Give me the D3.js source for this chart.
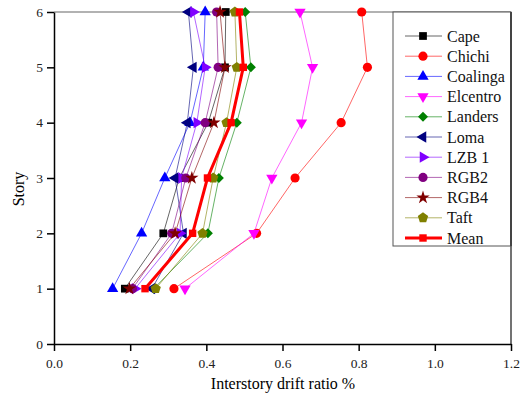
<html>
<head>
    <script src="https://d3js.org/d3.v7.min.js"></script>
</head>
<body style="margin:0;background:#fff">
    <div id="chart">
        <svg width=523 height=398></svg>
    </div>
    <script>
        // story levels and drift ratios (%)
        var stories = [1, 2, 3, 4, 5, 6]
        var cape = [0.186, 0.287, 0.329, 0.405, 0.449, 0.451]
        var chichi = [0.315, 0.532, 0.633, 0.754, 0.823, 0.808]
        var coalinga = [0.154, 0.230, 0.291, 0.357, 0.392, 0.397]
        var elcentro = [0.344, 0.525, 0.572, 0.650, 0.679, 0.646]
        var landers = [0.262, 0.404, 0.433, 0.480, 0.517, 0.502]
        var loma = [0.257, 0.340, 0.318, 0.350, 0.366, 0.353]
        var lzb1 = [0.213, 0.331, 0.335, 0.375, 0.397, 0.366]
        var rgb2 = [0.206, 0.309, 0.346, 0.397, 0.431, 0.427]
        var rgb4 = [0.198, 0.318, 0.362, 0.420, 0.449, 0.436]
        var taft = [0.267, 0.390, 0.418, 0.453, 0.480, 0.475]
        var mean = [0.239, 0.364, 0.403, 0.465, 0.497, 0.487]

        var xTicks = [0, 0.2, 0.4, 0.6, 0.8, 1.0, 1.2]
        var yTicks = [0, 1, 2, 3, 4, 5, 6]

        var series = [
            { name: "Cape", values: cape, color: "#000000", shape: "square" },
            { name: "Chichi", values: chichi, color: "#ff0000", shape: "circle" },
            { name: "Coalinga", values: coalinga, color: "#0000ff", shape: "up" },
            { name: "Elcentro", values: elcentro, color: "#ff00ff", shape: "down" },
            { name: "Landers", values: landers, color: "#008000", shape: "diamond" },
            { name: "Loma", values: loma, color: "#000080", shape: "left" },
            { name: "LZB 1", values: lzb1, color: "#8000ff", shape: "right" },
            { name: "RGB2", values: rgb2, color: "#800080", shape: "circle" },
            { name: "RGB4", values: rgb4, color: "#800000", shape: "star" },
            { name: "Taft", values: taft, color: "#808000", shape: "pentagon" },
            { name: "Mean", values: mean, color: "#ff0000", shape: "square", bold: true }
        ]

        var FONT = "'Liberation Serif', serif"
        var svg = d3.select('#chart svg')

        var x = d3.scaleLinear().domain([0, 1.2]).range([54, 511])
        var y = d3.scaleLinear().domain([0, 6]).range([344, 12])

        // pentagon marker for Taft
        var pentagon = {
            draw: function(ctx, size) {
                var r = Math.sqrt(size / 2.378)
                for (var i = 0; i < 5; i++) {
                    var a = -Math.PI / 2 + i * 2 * Math.PI / 5
                    if (i == 0) ctx.moveTo(r * Math.cos(a), r * Math.sin(a))
                    else ctx.lineTo(r * Math.cos(a), r * Math.sin(a))
                }
                ctx.closePath()
            }
        }

        function marker(shape, bold) {
            var types = {
                square: [d3.symbolSquare, bold ? 55 : 60, 0],
                circle: [d3.symbolCircle, 66, 0],
                up: [d3.symbolTriangle, 55, 0],
                down: [d3.symbolTriangle, 55, 180],
                left: [d3.symbolTriangle, 55, -90],
                right: [d3.symbolTriangle, 55, 90],
                diamond: [d3.symbolSquare, 50, 45],
                star: [d3.symbolStar, 55, 0],
                pentagon: [pentagon, 70, 0]
            }
            return types[shape]
        }

        // frame
        svg.append("line").attr("x1", 54).attr("x2", 511).attr("y1", 12).attr("y2", 12)
            .attr("stroke", "#999").attr("stroke-width", 1.5)
        svg.append("line").attr("x1", 511).attr("x2", 511).attr("y1", 12).attr("y2", 344)
            .attr("stroke", "#444").attr("stroke-width", 1.5)

        var line = d3.line()
            .x(function(d) { return x(d.v) })
            .y(function(d) { return y(d.s) })

        series.forEach(function(ser) {
            var pts = stories.map(function(s, i) { return { s: s, v: ser.values[i] } })
            var g = svg.append("g")
            g.append("path")
                .datum(pts)
                .attr("d", line)
                .attr("fill", "none")
                .attr("stroke", ser.color)
                .attr("stroke-width", ser.bold ? 3 : 1)
                .attr("stroke-opacity", ser.bold ? 1 : 0.6)
            var m = marker(ser.shape, ser.bold)
            g.selectAll("path.pt")
                .data(pts)
                .enter()
                .append("path")
                .classed("pt", true)
                .attr("d", d3.symbol().type(m[0]).size(m[1]))
                .attr("transform", function(d) {
                    return "translate(" + x(d.v) + "," + y(d.s) + ") rotate(" + m[2] + ")"
                })
                .attr("fill", ser.color)
        })

        // axes
        var xAxis = d3.axisBottom(x).tickValues(xTicks).tickFormat(d3.format(".1f")).tickSize(7).tickSizeOuter(0)
        var gx = svg.append("g").attr("transform", "translate(0,344)").call(xAxis)
        var yAxis = d3.axisLeft(y).tickValues(yTicks).tickFormat(d3.format("d")).tickSize(7).tickSizeOuter(0)
        var gy = svg.append("g").attr("transform", "translate(54,0)").call(yAxis)

        gx.selectAll("text").style("font-family", FONT).attr("font-size", 13.5).attr("fill", "#222").attr("y", 14)
        gy.selectAll("text").style("font-family", FONT).attr("font-size", 13.5).attr("fill", "#222").attr("x", -11)
        gx.select(".domain").attr("stroke-width", 1.5)
        gy.select(".domain").attr("stroke-width", 1.5)
        gx.selectAll(".tick line").attr("stroke-width", 1.5)
        gy.selectAll(".tick line").attr("stroke-width", 1.5)

        svg.append("text")
            .attr("x", 283).attr("y", 389)
            .attr("text-anchor", "middle")
            .style("font-family", FONT)
            .attr("font-size", 16)
            .text("Interstory drift ratio %")
        svg.append("text")
            .attr("transform", "translate(24,189) rotate(-90)")
            .attr("text-anchor", "middle")
            .style("font-family", FONT)
            .attr("font-size", 16)
            .text("Story")

        // legend
        var lg = svg.append("g")
        lg.append("rect")
            .attr("x", 393).attr("y", 12).attr("width", 118).attr("height", 234)
            .attr("fill", "#fff").attr("stroke", "#555").attr("stroke-width", 1)
        svg.append("line").attr("x1", 511).attr("x2", 511).attr("y1", 12).attr("y2", 246)
            .attr("stroke", "#444").attr("stroke-width", 2)

        series.forEach(function(ser, i) {
            var ly = 36 + i * 20.2
            lg.append("line")
                .attr("x1", 405).attr("x2", 442).attr("y1", ly).attr("y2", ly)
                .attr("stroke", ser.color)
                .attr("stroke-width", ser.bold ? 3 : 1)
                .attr("stroke-opacity", ser.bold ? 1 : 0.6)
            var m = marker(ser.shape, ser.bold)
            lg.append("path")
                .attr("d", d3.symbol().type(m[0]).size(m[1]))
                .attr("transform", "translate(423," + ly + ") rotate(" + m[2] + ")")
                .attr("fill", ser.color)
            lg.append("text")
                .attr("x", 447).attr("y", ly + 5.5)
                .style("font-family", FONT)
                .attr("font-size", 16)
                .attr("fill", "#111")
                .text(ser.name)
        })
    </script>
</body>
</html>
